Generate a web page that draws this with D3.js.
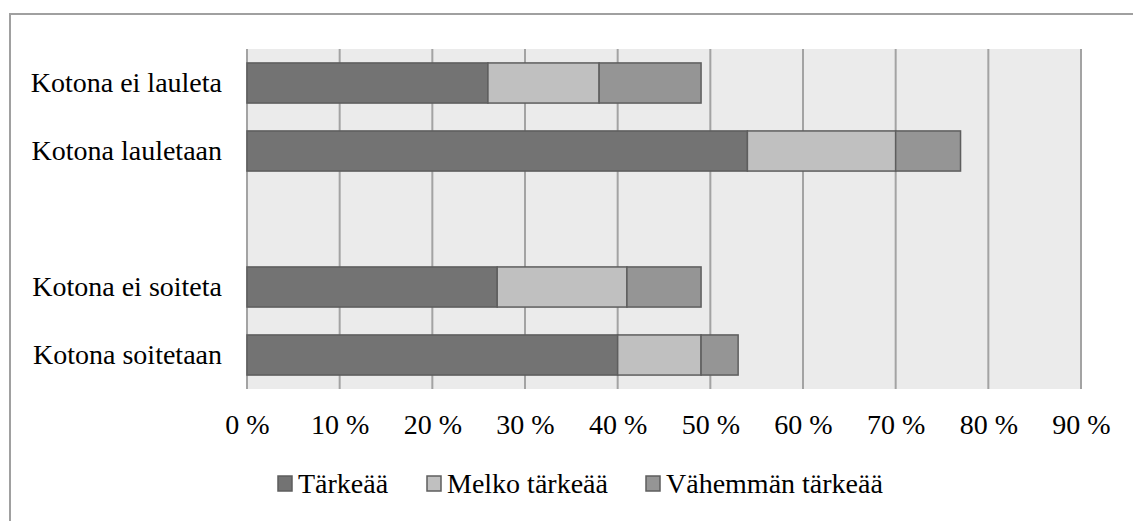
<!DOCTYPE html>
<html>
<head>
<meta charset="utf-8">
<script src="https://cdn.jsdelivr.net/npm/d3@7"></script>
<style>
  body { margin: 0; background: #fff; }
  text { font-family: "Liberation Serif", "DejaVu Serif", serif; fill: #000; }
</style>
</head>
<body>
<svg id="chart" width="1133" height="521"></svg>
<script>
// rows top to bottom, the blank one is the gap in the middle
var categories = ["Kotona ei lauleta", "Kotona lauletaan", " ", "Kotona ei soiteta", "Kotona soitetaan"];
var series = ["Tärkeää", "Melko tärkeää", "Vähemmän tärkeää"];
var tarkeaa = [26, 54, 0, 27, 40];
var melko = [12, 16, 0, 14, 9];
var vahemman = [11, 7, 0, 8, 4];
var ticks = [0, 10, 20, 30, 40, 50, 60, 70, 80, 90];
var colors = ["#737373", "#c0c0c0", "#959595"];

var rows = categories.map(function(c, i) {
  return { cat: c, "Tärkeää": tarkeaa[i], "Melko tärkeää": melko[i], "Vähemmän tärkeää": vahemman[i] };
});

var svg = d3.select("#chart");
var plotLeft = 247, plotRight = 1081, plotTop = 49, plotBottom = 389;
var fontSize = "28px";

// outer frame (only top and left edges are inside the picture)
svg.append("rect")
  .attr("x", 10).attr("y", 14)
  .attr("width", 1140).attr("height", 520)
  .attr("fill", "none").attr("stroke", "#a0a0a0").attr("stroke-width", 2);

var x = d3.scaleLinear().domain([0, 90]).range([plotLeft, plotRight]);
var y = d3.scaleBand().domain(categories).range([plotTop, plotBottom])
  .paddingInner(0.41).paddingOuter(0.205);

svg.append("rect")
  .attr("x", plotLeft).attr("y", plotTop)
  .attr("width", plotRight - plotLeft).attr("height", plotBottom - plotTop)
  .attr("fill", "#ebebeb");

// gridlines
svg.append("g").selectAll("line")
  .data(ticks)
  .enter()
  .append("line")
    .attr("x1", function(d) { return x(d); })
    .attr("x2", function(d) { return x(d); })
    .attr("y1", plotTop).attr("y2", plotBottom)
    .attr("stroke", "#a3a3a3")
    .attr("stroke-width", 2);

var stack = d3.stack().keys(series)(rows);

svg.append("g").selectAll("g")
  .data(stack)
  .enter()
  .append("g")
    .attr("fill", function(d, i) { return colors[i]; })
  .selectAll("rect")
  .data(function(d) { return d.filter(function(p) { return p[1] > p[0]; }); })
  .enter()
  .append("rect")
    .attr("x", function(d) { return x(d[0]); })
    .attr("y", function(d) { return y(d.data.cat); })
    .attr("width", function(d) { return x(d[1]) - x(d[0]); })
    .attr("height", y.bandwidth())
    .attr("stroke", "#5e5e5e")
    .attr("stroke-width", 1.5);

// x tick labels
var xAxis = svg.append("g")
  .attr("transform", "translate(0," + (plotBottom + 45) + ")")
  .call(d3.axisBottom(x).tickValues(ticks).tickSize(0).tickPadding(0)
    .tickFormat(function(d) { return d + " %"; }));
xAxis.select(".domain").remove();
xAxis.selectAll("text")
  .attr("dy", 0)
  .style("font-size", fontSize)
  .style("font-family", "Liberation Serif, serif")
  .attr("fill", "#000");

// category labels
var yAxis = svg.append("g")
  .attr("transform", "translate(" + (plotLeft - 25) + ",0)")
  .call(d3.axisLeft(y).tickSize(0).tickPadding(0));
yAxis.select(".domain").remove();
yAxis.selectAll("text")
  .attr("dy", "0.33em")
  .style("font-size", fontSize)
  .style("font-family", "Liberation Serif, serif")
  .attr("fill", "#000");

// legend
var legendX = [278, 427, 646];
var legend = svg.append("g").selectAll("g")
  .data(series)
  .enter()
  .append("g")
    .attr("transform", function(d, i) { return "translate(" + legendX[i] + ",476)"; });
legend.append("rect")
  .attr("width", 14).attr("height", 15)
  .attr("fill", function(d, i) { return colors[i]; })
  .attr("stroke", "#5e5e5e").attr("stroke-width", 1.5);
legend.append("text")
  .attr("x", 20).attr("y", 17)
  .style("font-size", fontSize)
  .text(function(d) { return d; });
</script>
</body>
</html>
